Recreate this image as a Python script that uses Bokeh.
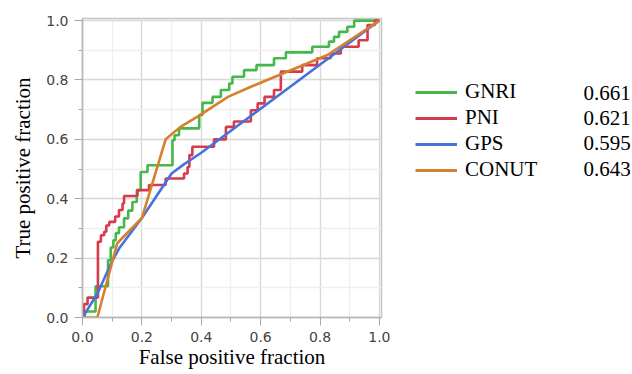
from bokeh.plotting import figure
from bokeh.layouts import row
from bokeh.models import (Range1d, SingleIntervalTicker, Legend, LegendItem, Label,
                          PrintfTickFormatter)
from bokeh.embed import file_html
from bokeh.resources import INLINE

# ---- data ----
gnri_fpr = [0, 0.008, 0.008, 0.044, 0.044, 0.086, 0.086, 0.095, 0.095, 0.104, 0.104, 0.112, 0.112,
            0.123, 0.123, 0.14, 0.14, 0.154, 0.154, 0.168, 0.168, 0.183, 0.183, 0.196, 0.196,
            0.219, 0.219, 0.303, 0.303, 0.31, 0.31, 0.325, 0.325, 0.393, 0.393, 0.404, 0.404,
            0.438, 0.438, 0.466, 0.466, 0.494, 0.494, 0.505, 0.505, 0.544, 0.544, 0.586, 0.586,
            0.645, 0.645, 0.685, 0.685, 0.774, 0.774, 0.83, 0.83, 0.847, 0.847, 0.864, 0.864,
            0.892, 0.892, 0.915, 0.915, 1.0]
gnri_tpr = [0, 0, 0.02, 0.02, 0.105, 0.105, 0.193, 0.193, 0.236, 0.236, 0.26, 0.26, 0.284,
            0.284, 0.304, 0.304, 0.334, 0.334, 0.36, 0.36, 0.389, 0.389, 0.429, 0.429, 0.49,
            0.49, 0.513, 0.513, 0.597, 0.597, 0.614, 0.614, 0.637, 0.637, 0.682, 0.682, 0.723,
            0.723, 0.743, 0.743, 0.766, 0.766, 0.788, 0.788, 0.811, 0.811, 0.833, 0.833, 0.85,
            0.85, 0.873, 0.873, 0.893, 0.893, 0.912, 0.912, 0.929, 0.929, 0.945, 0.945, 0.962,
            0.962, 0.979, 0.979, 1.0, 1.0]

pni_fpr = [0, 0.005, 0.005, 0.017, 0.017, 0.052, 0.052, 0.062, 0.062, 0.073, 0.073, 0.08, 0.08,
           0.09, 0.09, 0.11, 0.11, 0.123, 0.123, 0.135, 0.135, 0.14, 0.14, 0.185, 0.185, 0.224,
           0.224, 0.28, 0.28, 0.342, 0.342, 0.354, 0.354, 0.36, 0.36, 0.37, 0.37, 0.443, 0.443,
           0.483, 0.483, 0.51, 0.51, 0.567, 0.567, 0.59, 0.59, 0.613, 0.613, 0.645, 0.645, 0.668,
           0.668, 0.74, 0.74, 0.79, 0.79, 0.836, 0.836, 0.87, 0.87, 0.93, 0.93, 0.96, 0.96, 0.985,
           0.985, 1.0]
pni_tpr = [0, 0, 0.045, 0.045, 0.067, 0.067, 0.255, 0.255, 0.277, 0.277, 0.289, 0.289, 0.31,
           0.31, 0.322, 0.322, 0.34, 0.34, 0.362, 0.362, 0.384, 0.384, 0.409, 0.409, 0.429, 0.429,
           0.446, 0.446, 0.468, 0.468, 0.485, 0.485, 0.507, 0.507, 0.547, 0.547, 0.575, 0.575,
           0.6, 0.6, 0.642, 0.642, 0.66, 0.66, 0.698, 0.698, 0.721, 0.721, 0.743, 0.743, 0.766,
           0.766, 0.828, 0.828, 0.85, 0.85, 0.873, 0.873, 0.889, 0.889, 0.912, 0.912, 0.934,
           0.934, 0.985, 0.985, 1.0, 1.0]

gps_fpr = [0, 0.05, 0.1, 0.125, 0.2, 0.3, 0.34, 0.4, 1.0]
gps_tpr = [0, 0.08, 0.19, 0.235, 0.335, 0.485, 0.515, 0.555, 1.0]

conut_fpr = [0, 0.05, 0.117, 0.2, 0.28, 0.33, 0.39, 0.49, 0.567, 0.825, 1.0]
conut_tpr = [0, 0, 0.25, 0.335, 0.6, 0.642, 0.678, 0.743, 0.777, 0.884, 1.0]

names = ["GNRI", "PNI", "GPS", "CONUT"]
auc_labels = ["0.661", "0.621", "0.595", "0.643"]
colors = ["#46b74a", "#d73a4b", "#4573da", "#d6802e"]

H = 374
MAIN_W = 390
LEG_W = 632 - MAIN_W
LEFT, RIGHT, TOP, BOTTOM = 82, 9, 18, 57
FRAME_BOTTOM = H - BOTTOM

p = figure(width=MAIN_W, height=H, output_backend="svg", toolbar_location=None,
           x_range=Range1d(0, 1.007), y_range=Range1d(0, 1.007),
           min_border_left=LEFT, min_border_right=RIGHT,
           min_border_top=TOP, min_border_bottom=BOTTOM)
p.background_fill_color = "white"
p.border_fill_color = "white"
p.outline_line_color = "#c4c4c4"
p.outline_line_width = 1.5

for ax in (p.xaxis[0], p.yaxis[0]):
    ax.ticker = SingleIntervalTicker(interval=0.2, num_minor_ticks=2)
    ax.formatter = PrintfTickFormatter(format="%.1f")
    ax.axis_line_color = "#b8b8b8"
    ax.axis_line_width = 1.5
    ax.major_tick_line_color = "#a8a8a8"
    ax.minor_tick_line_color = "#a8a8a8"
    ax.major_tick_out = 8
    ax.major_tick_in = 0
    ax.minor_tick_out = 4
    ax.minor_tick_in = 0
    ax.major_label_text_font = "DejaVu Sans"
    ax.major_label_text_font_size = "14px"
    ax.major_label_text_color = "#444444"
    ax.major_label_standoff = 6
    ax.axis_label_text_font = "Liberation Serif"
    ax.axis_label_text_font_size = "21px"
    ax.axis_label_text_font_style = "normal"
    ax.axis_label_text_color = "black"

p.xaxis.axis_label = "False positive fraction"
p.yaxis.axis_label = "True positive fraction"
p.xaxis.axis_label_standoff = 0
p.yaxis.axis_label_standoff = 8

for g in p.grid:
    g.grid_line_color = "#d9d9d9"
    g.grid_line_width = 1.3
    g.minor_grid_line_color = "#efefef"
    g.minor_grid_line_width = 1.3

series = [(gnri_fpr, gnri_tpr), (pni_fpr, pni_tpr), (gps_fpr, gps_tpr), (conut_fpr, conut_tpr)]
for (fx, fy), c in zip(series, colors):
    p.line(fx, fy, line_color=c, line_width=2.6)

# ---- legend panel (frame aligned with the main plot by the row layout) ----
q = figure(width=LEG_W, height=H, output_backend="svg", toolbar_location=None,
           x_range=Range1d(0, 1), y_range=Range1d(0, 1),
           min_border=0, min_border_left=0, min_border_right=0,
           min_border_top=0, min_border_bottom=0)
q.axis.visible = False
q.grid.visible = False
q.outline_line_color = None
q.background_fill_color = "white"
q.border_fill_color = "white"

# legend-only renderers, their points lie outside the visible range
leg_renderers = [q.line([5, 6], [5, 6], line_color=c, line_width=3) for c in colors]
legend = Legend(items=[LegendItem(label=n, renderers=[r]) for n, r in zip(names, leg_renderers)],
                location=(415 - MAIN_W, 135))
legend.glyph_width = 42
legend.glyph_height = 20
legend.label_height = 20
legend.label_standoff = 8
legend.padding = 0
legend.margin = 0
legend.spacing = 1
legend.border_line_color = None
legend.background_fill_alpha = 0
legend.label_text_font = "Liberation Serif"
legend.label_text_font_size = "21px"
legend.label_text_color = "black"
q.add_layout(legend, "center")

row_centers = [92.5, 117.8, 142.8, 168.3]
for t, yc in zip(auc_labels, row_centers):
    q.add_layout(Label(x=583 - MAIN_W, y=FRAME_BOTTOM - yc, x_units="screen", y_units="screen",
                       text=t, text_baseline="middle", text_align="left",
                       text_font="Liberation Serif", text_font_size="21px", text_color="black"))

layout = row(p, q, spacing=0)
open("out.html", "w").write(file_html(layout, INLINE))
